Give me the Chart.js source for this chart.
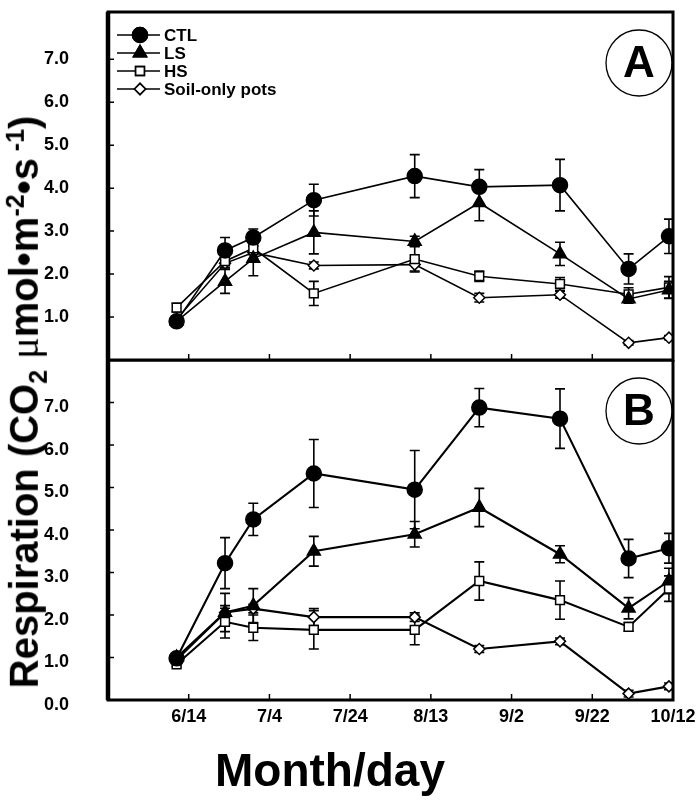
<!DOCTYPE html>
<html lang="en">
<head>
<meta charset="UTF-8">
<title>Respiration</title>
<style>
  body { margin: 0; background: #fff; }
  #wrap { position: relative; width: 697px; height: 803px; overflow: hidden; background: #fff; }
  #wrap canvas { position: absolute; left: 0; }
  #cA { top: 0; }
  #cB { top: 360px; }
  .ytitle {
    position: absolute; left: 27px; top: 402px;
    transform: translate(-50%, -50%) rotate(-90deg);
    font: bold 40px "Liberation Sans", Arial, sans-serif;
    white-space: nowrap; color: #000;
  }
  .ytitle sub, .ytitle sup { font-size: 25px; }
  .ytitle .mu { font-family: "Liberation Serif", serif; font-weight: normal; }
  .xtitle {
    position: absolute; left: 330px; top: 770px;
    transform: translate(-50%, -50%);
    font: bold 46px "Liberation Sans", Arial, sans-serif;
    white-space: nowrap; color: #000;
  }
</style>
</head>
<body>
<div id="wrap">
  <canvas id="cA" width="697" height="362"></canvas>
  <canvas id="cB" width="697" height="443"></canvas>
  <div class="ytitle">Respiration (CO<sub>2</sub> <span class="mu">&mu;</span>mol&bull;m<sup>-2</sup>&bull;s<sup> -1</sup>)</div>
  <div class="xtitle">Month/day</div>
</div>
<script src="https://cdn.jsdelivr.net/npm/chart.js"></script>
<script>
// sampling dates, as day of year (about 6/11 ... 10/11)
const days = [162, 174, 181, 196, 221, 237, 257, 274, 284];
const tickDays = [165, 185, 205, 225, 245, 265, 285];
const tickLabels = ['6/14', '7/4', '7/24', '8/13', '9/2', '9/22', '10/12'];

// panel A
const ctlA  = [0.90, 2.55, 2.85, 3.72, 4.28, 4.03, 4.07, 2.12, 2.88];
const ctlAe = [0.08, 0.30, 0.20, 0.37, 0.50, 0.40, 0.60, 0.35, 0.40];
const lsA   = [0.90, 1.83, 2.36, 2.97, 2.76, 3.66, 2.47, 1.42, 1.63];
const lsAe  = [0.10, 0.28, 0.40, 0.50, 0.12, 0.42, 0.27, 0.10, 0.20];
const hsA   = [1.22, 2.30, 2.60, 1.55, 2.35, 1.95, 1.77, 1.53, 1.69];
const hsAe  = [0.10, 0.15, 0.15, 0.28, 0.30, 0.12, 0.15, 0.15, 0.25];
const soilA = [0.95, 2.25, 2.50, 2.20, 2.22, 1.45, 1.52, 0.40, 0.52];
const soilAe= [0.05, 0.10, 0.15, 0.08, 0.15, 0.10, 0.08, 0.05, 0.05];

// panel B
const ctlB  = [0.98, 3.22, 4.25, 5.33, 4.95, 6.88, 6.62, 3.33, 3.57];
const ctlBe = [0.05, 0.60, 0.38, 0.80, 0.92, 0.45, 0.70, 0.45, 0.35];
const lsB   = [1.00, 2.06, 2.22, 3.50, 3.90, 4.53, 3.43, 2.16, 2.80];
const lsBe  = [0.05, 0.45, 0.40, 0.35, 0.30, 0.45, 0.20, 0.25, 0.30];
const hsB   = [0.84, 1.84, 1.70, 1.65, 1.65, 2.80, 2.35, 1.72, 2.62];
const hsBe  = [0.05, 0.38, 0.30, 0.45, 0.35, 0.45, 0.45, 0.10, 0.30];
const soilB = [0.95, 2.06, 2.15, 1.95, 1.95, 1.20, 1.38, 0.15, 0.32];
const soilBe= [0.05, 0.10, 0.10, 0.20, 0.10, 0.08, 0.08, 0.08, 0.08];

const seriesNames = ['CTL', 'LS', 'HS', 'Soil-only pots'];
const FONT = '"Liberation Sans", Arial, sans-serif';

function makeSets(vals, errs, lw) {
  const styles = [
    { pointStyle: 'circle',   pointRadius: 7.5, bg: '#000' },
    { pointStyle: 'triangle', pointRadius: 7.5, bg: '#000' },
    { pointStyle: 'rect',     pointRadius: 6.2, bg: '#fff' },
    { pointStyle: 'rectRot',  pointRadius: 5.5, bg: '#fff' }
  ];
  return vals.map((v, k) => ({
    label: seriesNames[k],
    data: days.map((d, i) => ({ x: d, y: v[i] })),
    errors: errs[k],
    borderColor: '#000',
    borderWidth: lw,
    pointStyle: styles[k].pointStyle,
    pointRadius: styles[k].pointRadius,
    pointBackgroundColor: styles[k].bg,
    pointBorderColor: '#000',
    pointBorderWidth: 1.5,
    tension: 0
  }));
}

const errorBars = {
  id: 'errorBars',
  beforeDatasetsDraw(chart) {
    const ctx = chart.ctx, xs = chart.scales.x, ys = chart.scales.y;
    ctx.save();
    ctx.strokeStyle = '#000';
    ctx.lineWidth = 1.6;
    chart.data.datasets.forEach(ds => {
      ds.data.forEach((p, i) => {
        const e = ds.errors[i];
        const x = xs.getPixelForValue(p.x);
        const y1 = ys.getPixelForValue(p.y + e), y2 = ys.getPixelForValue(p.y - e);
        ctx.beginPath();
        ctx.moveTo(x, y1); ctx.lineTo(x, y2);
        ctx.moveTo(x - 5, y1); ctx.lineTo(x + 5, y1);
        ctx.moveTo(x - 5, y2); ctx.lineTo(x + 5, y2);
        ctx.stroke();
      });
    });
    ctx.restore();
  }
};

const frame = {
  id: 'frame',
  afterDraw(chart, args, opts) {
    const ctx = chart.ctx, a = chart.chartArea;
    const xs = chart.scales.x, ys = chart.scales.y;
    ctx.save();
    ctx.strokeStyle = '#000';
    // inner ticks
    ctx.lineWidth = 1.5;
    ctx.beginPath();
    for (let v = 1; v <= 7; v++) {
      const y = ys.getPixelForValue(v);
      ctx.moveTo(a.left, y); ctx.lineTo(a.left + 6, y);
    }
    tickDays.forEach(d => {
      const x = xs.getPixelForValue(d);
      ctx.moveTo(x, a.bottom); ctx.lineTo(x, a.bottom - 6);
    });
    ctx.stroke();
    // box
    ctx.lineWidth = 3;
    ctx.strokeRect(a.left, a.top, a.right - a.left, a.bottom - a.top);
    ctx.lineWidth = 4.5;
    ctx.beginPath();
    ctx.moveTo(a.left, a.top); ctx.lineTo(a.left, a.bottom);
    ctx.stroke();

    // panel letter
    const cx = a.right - 34, cy = a.top + 51;
    ctx.lineWidth = 1.3;
    ctx.beginPath();
    ctx.arc(cx, cy, 33, 0, Math.PI * 2);
    ctx.stroke();
    ctx.fillStyle = '#000';
    ctx.font = 'bold 44px ' + FONT;
    ctx.textAlign = 'center';
    ctx.textBaseline = 'middle';
    ctx.fillText(opts.letter, cx, cy + 2);

    // legend (panel A only)
    if (opts.legend) {
      ctx.font = 'bold 17px ' + FONT;
      ctx.textAlign = 'left';
      chart.data.datasets.forEach((ds, k) => {
        const y = a.top + 23 + k * 18;
        const x0 = a.left + 9, x1 = a.left + 52, xm = a.left + 32;
        ctx.lineWidth = 1.6;
        ctx.strokeStyle = '#000';
        ctx.beginPath(); ctx.moveTo(x0, y); ctx.lineTo(x1, y); ctx.stroke();
        Chart.helpers.drawPoint(ctx, {
          pointStyle: ds.pointStyle, radius: ds.pointRadius, borderWidth: 1.5
        }, xm, y);
        ctx.fillStyle = ds.pointBackgroundColor;
        ctx.fill();
        ctx.stroke();
        ctx.fillStyle = '#000';
        ctx.fillText(ds.label, a.left + 56, y + 1);
      });
    }
    ctx.restore();
  }
};

function options(yMax, bottomPanel, letter) {
  return {
    responsive: false,
    animation: false,
    layout: {
      autoPadding: false,
      padding: { top: bottomPanel ? 0 : 12, right: 24, bottom: bottomPanel ? 0 : 2, left: 0 }
    },
    plugins: {
      legend: { display: false },
      tooltip: { enabled: false },
      frame: { letter: letter, legend: !bottomPanel }
    },
    scales: {
      x: {
        type: 'linear', min: 145, max: 285,
        display: bottomPanel,
        grid: { display: false }, border: { display: false },
        afterBuildTicks: s => { s.ticks = tickDays.map(v => ({ value: v })); },
        afterFit: s => {
          s.height = bottomPanel ? 103 : 0;
          s.paddingLeft = 0; s.paddingRight = 0;
        },
        ticks: {
          autoSkip: false, maxRotation: 0, padding: -2, color: '#000',
          font: { family: FONT, size: 18, weight: 'bold' },
          callback: v => tickLabels[tickDays.indexOf(v)]
        }
      },
      y: {
        min: 0, max: yMax,
        grid: { display: false }, border: { display: false },
        afterFit: s => {
          s.width = 108;
          s.paddingTop = 0; s.paddingBottom = 0;
        },
        afterBuildTicks: s => {
          const vals = bottomPanel ? [0, 1, 2, 3, 4, 5, 6, 7] : [1, 2, 3, 4, 5, 6, 7];
          s.ticks = vals.map(v => ({ value: v }));
        },
        ticks: {
          padding: 31, color: '#000', labelOffset: bottomPanel ? 5 : 0,
          font: { family: FONT, size: 18, weight: 'bold' },
          callback: v => v.toFixed(1)
        }
      }
    }
  };
}

new Chart(document.getElementById('cA'), {
  type: 'line',
  data: { datasets: makeSets([ctlA, lsA, hsA, soilA], [ctlAe, lsAe, hsAe, soilAe], 1.6) },
  options: options(8.1, false, 'A'),
  plugins: [errorBars, frame]
});

new Chart(document.getElementById('cB'), {
  type: 'line',
  data: { datasets: makeSets([ctlB, lsB, hsB, soilB], [ctlBe, lsBe, hsBe, soilBe], 2.1) },
  options: options(8.0, true, 'B'),
  plugins: [errorBars, frame]
});
</script>
</body>
</html>
